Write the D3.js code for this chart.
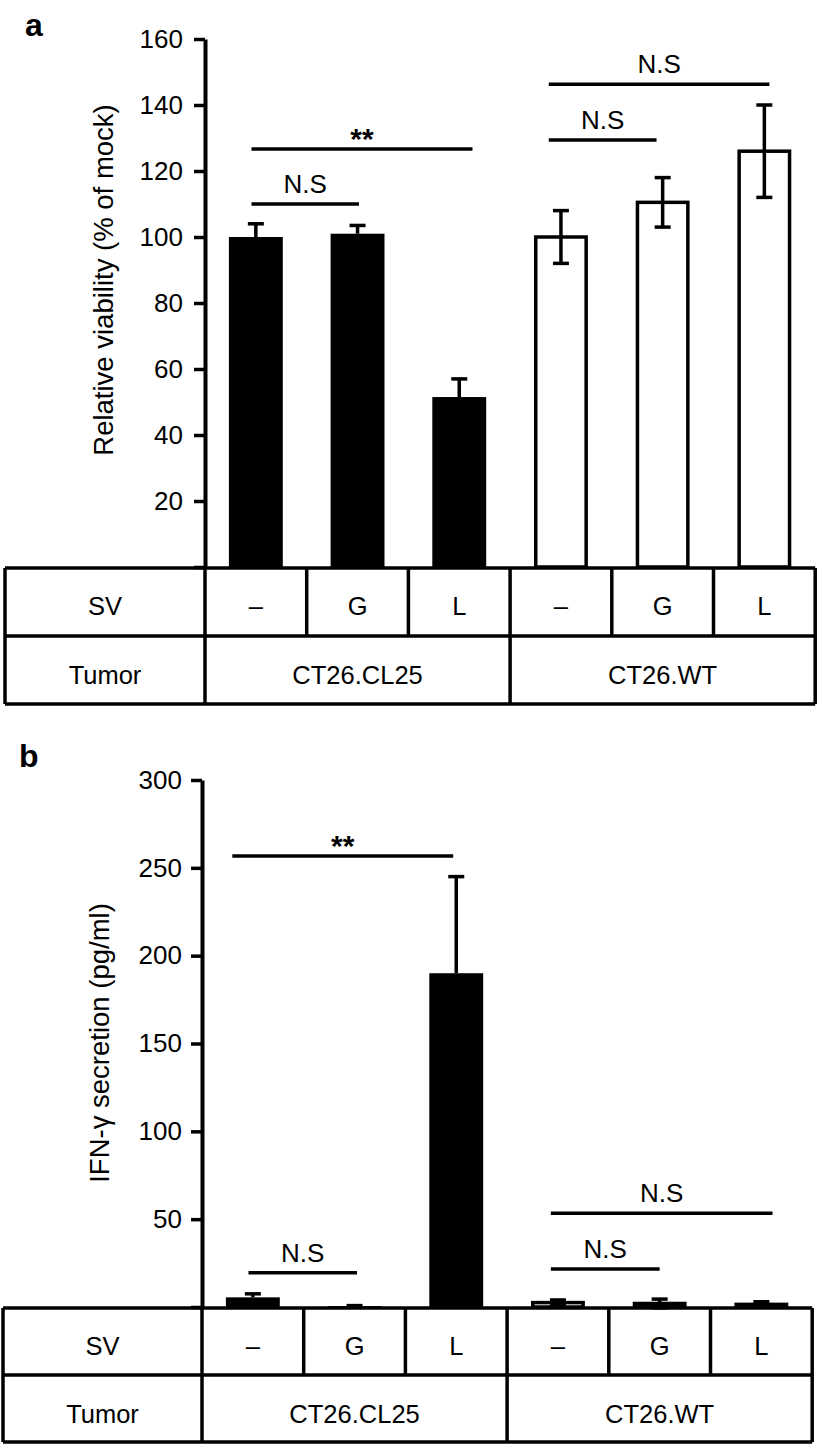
<!DOCTYPE html>
<html>
<head>
<meta charset="utf-8">
<script src="https://cdn.jsdelivr.net/npm/d3@7"></script>
<style>
  html, body { margin: 0; padding: 0; background: #fff; }
  svg { display: block; }
  text { font-family: "Liberation Sans", Arial, Helvetica, sans-serif; fill: #000; }
</style>
</head>
<body>
<svg id="chart" width="820" height="1444"></svg>
<script>
// ---------- data ----------
const svTreatments = ["\u2013", "G", "L", "\u2013", "G", "L"];
const tumorLines = ["CT26.CL25", "CT26.WT"];
const barGroup = ["CL25", "CL25", "CL25", "WT", "WT", "WT"];

const viability = [100, 101, 51.5, 100, 110.5, 126];
const viabilityErr = [4, 2.5, 5.5, 8, 7.5, 14];
const viabilityTicks = [0, 20, 40, 60, 80, 100, 120, 140, 160];

const ifng = [5.5, 0.5, 190, 2.5, 2, 1.5];
const ifngErr = [2, 0.3, 55, 1.5, 2.5, 1.5];
const ifngTicks = [0, 50, 100, 150, 200, 250, 300];

// significance brackets: start / end in column units, height in data units
const sigA = [
  { from: 0.457, to: 1.514, y: 110, label: "N.S" },
  { from: 0.457, to: 2.63, y: 126.7, label: "**" },
  { from: 3.38, to: 4.44, y: 129.4, label: "N.S" },
  { from: 3.38, to: 5.55, y: 146.3, label: "N.S" }
];
const sigB = [
  { from: 0.298, to: 2.47, y: 256.7, label: "**" },
  { from: 0.457, to: 1.524, y: 19.5, label: "N.S" },
  { from: 3.43, to: 4.5, y: 21.6, label: "N.S" },
  { from: 3.43, to: 5.61, y: 53.3, label: "N.S" }
];

// ---------- layout ----------
const svg = d3.select("#chart");
const LW = 3.5;

function panel(cfg) {
  const g = svg.append("g");
  const colW = cfg.colW;
  const right = cfg.axisX + 6 * colW;

  const y = d3.scaleLinear().domain(cfg.domain).range([cfg.y0, cfg.yTop]);
  const x = d3.scaleBand().domain(d3.range(6))
    .range([cfg.axisX, right]).paddingInner(0.47).paddingOuter(0.235);
  const xc = d3.scaleLinear().domain([0, 6]).range([cfg.axisX, right]);

  // panel letter
  g.append("text").attr("x", cfg.letterX).attr("y", cfg.letterY)
    .attr("font-size", 32).attr("font-weight", "bold").text(cfg.letter);

  // bars
  g.selectAll("rect.bar").data(cfg.values).join("rect")
    .attr("class", "bar")
    .attr("x", (d, i) => x(i) + (barGroup[i] === "WT" ? LW / 2 : 0))
    .attr("width", (d, i) => x.bandwidth() - (barGroup[i] === "WT" ? LW : 0))
    .attr("y", d => y(d))
    .attr("height", d => Math.max(0, y(0) - y(d)))
    .attr("fill", (d, i) => barGroup[i] === "CL25" ? "#000" : "#fff")
    .attr("stroke", (d, i) => barGroup[i] === "CL25" ? "none" : "#000")
    .attr("stroke-width", LW);

  // error bars
  cfg.values.forEach((v, i) => {
    const cx = x(i) + x.bandwidth() / 2;
    const e = cfg.errs[i];
    const lo = barGroup[i] === "CL25" ? v : v - e;
    const hi = v + e;
    g.append("line").attr("x1", cx).attr("x2", cx)
      .attr("y1", y(lo)).attr("y2", y(hi))
      .attr("stroke", "#000").attr("stroke-width", LW);
    g.append("line").attr("x1", cx - 8).attr("x2", cx + 8)
      .attr("y1", y(hi)).attr("y2", y(hi))
      .attr("stroke", "#000").attr("stroke-width", LW);
    if (barGroup[i] === "WT") {
      g.append("line").attr("x1", cx - 8).attr("x2", cx + 8)
        .attr("y1", y(lo)).attr("y2", y(lo))
        .attr("stroke", "#000").attr("stroke-width", LW);
    }
  });

  // axis
  const axis = d3.axisLeft(y).tickValues(cfg.ticks)
    .tickSize(11).tickSizeOuter(0).tickPadding(cfg.tickPad)
    .tickFormat(d => d === 0 ? "" : d);
  const ag = g.append("g").attr("transform", `translate(${cfg.axisX},0)`).call(axis);
  ag.select(".domain").attr("stroke", "#000").attr("stroke-width", 4);
  ag.selectAll(".tick line").attr("stroke", "#000").attr("stroke-width", LW);
  ag.selectAll(".tick text").attr("font-size", 26)
    .attr("font-family", "'Liberation Sans', Arial, sans-serif").attr("fill", "#000");

  // y title
  g.append("text")
    .attr("transform", `translate(${cfg.titleX},${cfg.titleY}) rotate(-90)`)
    .attr("text-anchor", "middle").attr("font-size", 27.5).text(cfg.title);

  // significance brackets
  cfg.sig.forEach(s => {
    g.append("line").attr("x1", xc(s.from)).attr("x2", xc(s.to))
      .attr("y1", y(s.y)).attr("y2", y(s.y))
      .attr("stroke", "#000").attr("stroke-width", LW);
    const star = s.label === "**";
    g.append("text")
      .attr("x", (xc(s.from) + xc(s.to)) / 2)
      .attr("y", y(s.y) - (star ? 0 : 11))
      .attr("text-anchor", "middle")
      .attr("font-size", star ? 30 : 26)
      .attr("font-weight", star ? "bold" : "normal")
      .text(s.label);
  });

  // table
  const t0 = cfg.tableTop, rh = cfg.rowH;
  const tl = cfg.tableLeft;
  const tg = g.append("g").attr("stroke", "#000").attr("stroke-width", LW);
  [t0, t0 + rh, t0 + 2 * rh].forEach(yy => {
    tg.append("line").attr("x1", tl).attr("x2", right).attr("y1", yy).attr("y2", yy);
  });
  [tl, cfg.axisX, right].forEach(xx => {
    tg.append("line").attr("x1", xx).attr("x2", xx).attr("y1", t0).attr("y2", t0 + 2 * rh);
  });
  for (let k = 1; k < 6; k++) {
    tg.append("line").attr("x1", xc(k)).attr("x2", xc(k))
      .attr("y1", t0).attr("y2", t0 + (k === 3 ? 2 * rh : rh));
  }
  const labX = (tl + cfg.axisX) / 2;
  const fs = 25.5;
  g.append("text").attr("x", labX).attr("y", t0 + 47).attr("text-anchor", "middle")
    .attr("font-size", fs).text("SV");
  g.append("text").attr("x", labX).attr("y", t0 + rh + 48).attr("text-anchor", "middle")
    .attr("font-size", fs).text("Tumor");
  svTreatments.forEach((s, i) => {
    g.append("text").attr("x", xc(i + 0.5)).attr("y", t0 + 47).attr("text-anchor", "middle")
      .attr("font-size", fs).text(s);
  });
  tumorLines.forEach((s, i) => {
    g.append("text").attr("x", xc(i * 3 + 1.5)).attr("y", t0 + rh + 48).attr("text-anchor", "middle")
      .attr("font-size", fs).text(s);
  });
}

panel({
  letter: "a", letterX: 25, letterY: 36,
  values: viability, errs: viabilityErr, ticks: viabilityTicks,
  domain: [0, 160], y0: 567, yTop: 39,
  axisX: 205, colW: 101.7, tickPad: 11,
  title: "Relative viability (% of mock)", titleX: 113, titleY: 280,
  sig: sigA,
  tableTop: 568, rowH: 68, tableLeft: 5
});

panel({
  letter: "b", letterX: 19, letterY: 767,
  values: ifng, errs: ifngErr, ticks: ifngTicks,
  domain: [0, 300], y0: 1307, yTop: 780,
  axisX: 202, colW: 101.7, tickPad: 9,
  title: "IFN-\u03b3 secretion (pg/ml)", titleX: 109, titleY: 1043,
  sig: sigB,
  tableTop: 1308, rowH: 67, tableLeft: 3
});
</script>
</body>
</html>
